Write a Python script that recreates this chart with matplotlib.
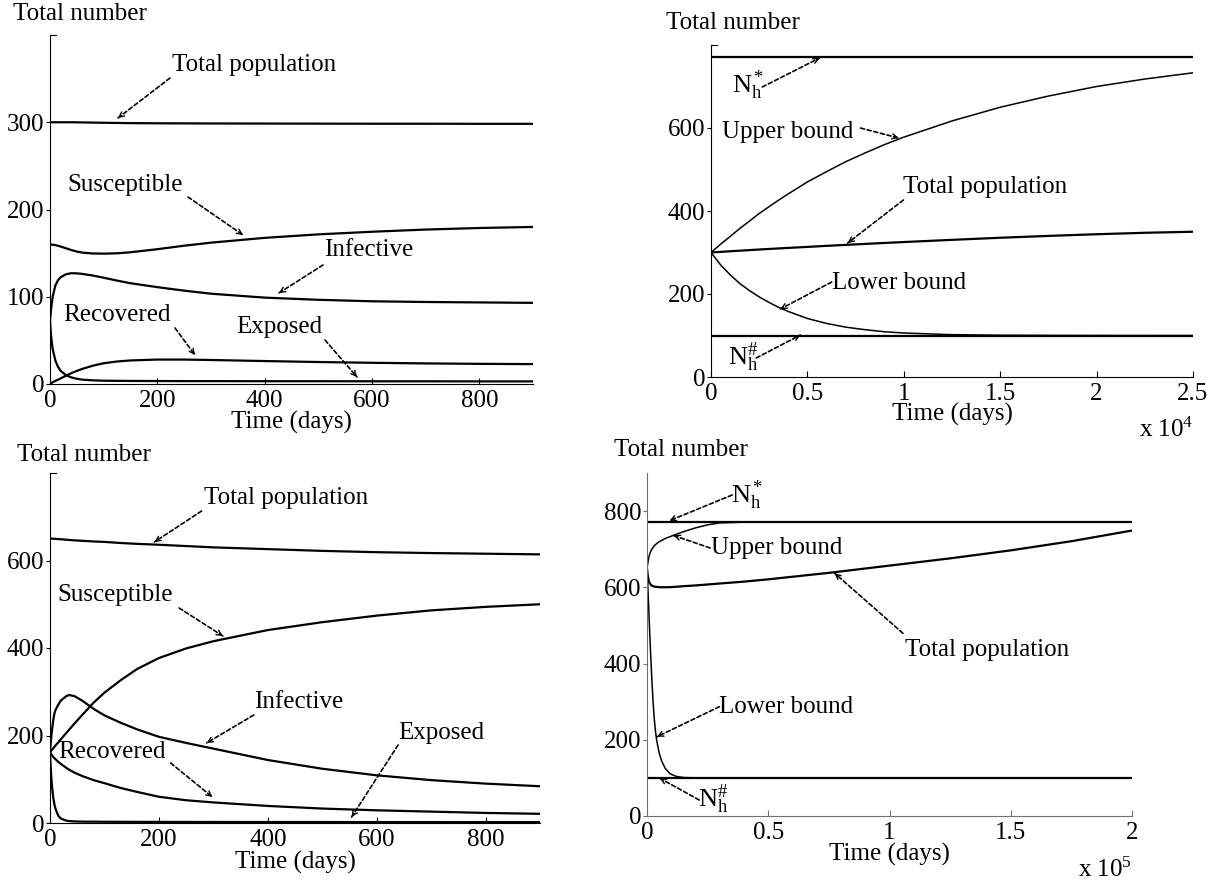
import matplotlib
matplotlib.use("Agg")
import matplotlib.pyplot as plt
from matplotlib.ticker import FuncFormatter

plt.rcParams['font.family'] = 'Liberation Serif'
plt.rcParams['mathtext.fontset'] = 'custom'
plt.rcParams['mathtext.rm'] = 'Liberation Serif'
plt.rcParams['mathtext.it'] = 'Liberation Serif:italic'
plt.rcParams['font.size'] = 18

# ---- SEIR run 1 (days) ----
t1 = [0, 2, 5, 10, 15, 20, 30, 40, 50, 60, 80, 100, 125, 150, 200, 250, 300,
      400, 500, 600, 700, 800, 900]
total1 = [300, 300, 300, 300, 300, 300, 300, 300, 299.9, 299.8, 299.6, 299.4,
          299.2, 299.0, 298.8, 298.7, 298.6, 298.5, 298.4, 298.3, 298.3, 298.2, 298.2]
susc1 = [160, 159.8, 159.6, 159.2, 158.4, 157.5, 155.5, 153.5, 151.8, 150.6, 149.6,
         149.4, 149.8, 151, 154.5, 158.5, 162, 167.5, 171.5, 174.5, 177, 178.8, 180]
inf1 = [72, 86, 100, 113, 119, 122.5, 125.8, 127, 126.8, 126.2, 124.3, 121.8, 118.5,
        115.5, 111, 107, 103.5, 99, 96.5, 94.8, 94, 93.5, 93]
exp1 = [72, 55, 40, 27, 19.5, 15, 10, 7.5, 6, 5, 4.2, 3.8, 3.6, 3.5, 3.4, 3.3, 3.3,
        3.2, 3.2, 3.1, 3.1, 3.0, 3.0]
rec1 = [0, 0.8, 2, 3.6, 5, 6.5, 9.5, 12.5, 15, 17.3, 21, 23.8, 25.8, 27, 28, 28,
        27.5, 26.3, 25.2, 24.3, 23.6, 23.1, 22.8]

# ---- bounds run 1 (days) ----
t2 = [0, 500, 1000, 1500, 2000, 2500, 3000, 3500, 4000, 5000, 6000, 7000, 8000,
      9000, 10000, 12500, 15000, 17500, 20000, 22500, 25000]
upper2 = [300, 320, 339, 358, 376, 394, 410, 426, 441, 470, 495, 519, 540, 560,
          578, 617, 650, 677, 700, 718, 733]
total2 = [300, 301.5, 303, 304.4, 305.8, 307.2, 308.5, 309.8, 311, 313.5, 316,
          318.4, 320.7, 323, 325.2, 330.5, 335.5, 340, 344, 347.5, 350]
lower2 = [300, 270, 246, 225, 208, 193, 180, 168, 158, 141, 129, 120, 114, 109,
          106, 102, 100.7, 100.3, 100.1, 100, 100]
nstar2 = 770
nhash2 = 100

# ---- SEIR run 2 (days) ----
t3 = [0, 1, 2, 3, 4, 6, 8, 10, 15, 20, 30, 35, 45, 60, 80, 100, 130, 160, 200,
      250, 300, 400, 500, 600, 700, 800, 900]
total3 = [650, 650, 650, 650, 650, 649.8, 649.6, 649.4, 649, 648.5, 647.5, 647, 646,
          645, 643.5, 642.5, 640, 638, 636, 633, 630, 626, 622, 619, 617, 615.5, 614]
susc3 = [162, 163.5, 165, 166.5, 168, 171, 174, 177, 184, 191.5, 206, 213, 227.5,
         248, 275, 298, 326.5, 352, 377, 399, 415.5, 441, 459, 474, 486, 494, 500]
inf3 = [162, 178, 192, 205, 216, 235, 250, 258, 270, 280, 290, 292.5, 290, 279,
        261, 246, 229, 214, 197, 183, 170, 144, 124, 109, 98, 90, 84]
rec3 = [162, 160, 158, 156, 154, 151, 148, 146, 140, 135, 126, 122, 115, 107, 98,
        91, 80, 71, 60, 52, 47, 39, 33, 29, 26, 23, 21]
exp3 = [162, 135, 112, 94, 80, 58, 43, 33, 17, 10, 5.5, 4.5, 3.6, 3.1, 3.0, 2.8,
        2.7, 2.6, 2.5, 2.4, 2.3, 2.2, 2.2, 2.1, 2.1, 2.0, 2.0]

# ---- bounds run 2 (days) ----
t4 = [0, 300, 700, 1000, 1500, 2000, 2500, 3000, 3500, 4000, 5000, 6000, 7500,
      9500, 12000, 15000, 20000, 25000, 30000, 40000, 50000, 75000, 100000,
      125000, 150000, 175000, 200000]
upper4 = [650, 662, 677, 685, 694, 700, 705, 709, 712, 715, 719.5, 723, 728, 733,
          739, 746, 756, 764, 769, 771, 772, 772, 772, 772, 772, 772, 772]
total4 = [650, 632, 618, 612, 607, 604.5, 603, 602, 601.5, 601, 600.5, 600.3, 600.2,
          600.5, 601.5, 603, 605, 607.5, 610, 615, 621, 638, 657, 676, 697, 721, 749]
lower4 = [650, 610, 548, 500, 425, 358, 300, 255, 222, 198, 166, 145, 125, 111,
          104, 101, 100, 100, 100, 100, 100, 100, 100, 100, 100, 100, 100]
nstar4 = 772
nhash4 = 100

W, H = 1230, 881
fig = plt.figure(figsize=(W / 100, H / 100), dpi=100)


def panel(left, right, top, bottom):
    ax = fig.add_axes([left / W, 1 - bottom / H, (right - left) / W, (bottom - top) / H])
    ax.spines['top'].set_visible(False)
    ax.spines['right'].set_visible(False)
    for s in ('left', 'bottom'):
        ax.spines[s].set_linewidth(0.8)
    ax.tick_params(axis='x', direction='in', length=4, width=0.8, pad=4, labelsize=18)
    ax.tick_params(axis='y', direction='out', length=3, width=0.8, pad=1, labelsize=18)
    return ax


def top_tick(ax):
    ax.plot([0, 0.012], [1, 1], transform=ax.transAxes, color='k', lw=0.8, clip_on=False)


def pointer(ax, tail, tip):
    ax.annotate('', xy=tip, xytext=tail,
                arrowprops=dict(arrowstyle='-', lw=1.2, linestyle=(0, (2.5, 1.6)),
                                color='k', shrinkA=0, shrinkB=0))
    back = (tip[0] + 0.05 * (tail[0] - tip[0]), tip[1] + 0.05 * (tail[1] - tip[1]))
    ax.annotate('', xy=tip, xytext=back,
                arrowprops=dict(arrowstyle='->', lw=1.0, color='k', mutation_scale=9,
                                shrinkA=0, shrinkB=0))


def label(ax, xy, s, va='center', size=18):
    ax.text(xy[0], xy[1], s, ha='left', va=va, fontsize=size)


def header(x, y):
    fig.text(x / W, 1 - y / H, 'Total number', ha='left', va='center', fontsize=18)


def xlab(ax, y):
    ax.set_xlabel('Time (days)', fontsize=18)
    ax.xaxis.set_label_coords(0.5, y)


lw_main = 1.6
lw_bound = 1.1

# top left
ax1 = panel(50, 533, 35, 384)
for y in (total1, susc1, inf1, exp1, rec1):
    ax1.plot(t1, y, color='k', lw=lw_main)
ax1.set_xlim(0, 900)
ax1.set_ylim(0, 400)
ax1.set_xticks([0, 200, 400, 600, 800])
ax1.set_yticks([0, 100, 200, 300])
top_tick(ax1)
header(13, 14)
xlab(ax1, -0.077)
label(ax1, (227, 365.6), 'Total population')
pointer(ax1, (223.6, 350.7), (126.7, 304.9))
label(ax1, (31.7, 228.1), 'Susceptible')
pointer(ax1, (257.2, 214.3), (359.6, 170.8))
label(ax1, (510.6, 153.6), 'Infective')
pointer(ax1, (508.7, 136.4), (426.7, 104.3))
label(ax1, (24.2, 79.1), 'Recovered')
pointer(ax1, (232.9, 64.2), (270.2, 33.2))
label(ax1, (346.6, 65.3), 'Exposed')
pointer(ax1, (512.4, 50.4), (572.1, 8.0))

# top right
ax2 = panel(711, 1193, 45, 377)
ax2.plot(t2, [nstar2] * len(t2), color='k', lw=lw_main)
ax2.plot(t2, [nhash2] * len(t2), color='k', lw=lw_main)
ax2.plot(t2, upper2, color='k', lw=lw_bound)
ax2.plot(t2, lower2, color='k', lw=lw_bound)
ax2.plot(t2, total2, color='k', lw=lw_main)
ax2.set_xlim(0, 25000)
ax2.set_ylim(0, 800)
ax2.set_xticks([0, 5000, 10000, 15000, 20000, 25000])
ax2.set_yticks([0, 200, 400, 600])
ax2.xaxis.set_major_formatter(FuncFormatter(lambda v, p: '%g' % (v / 1e4)))
top_tick(ax2)
header(666, 23)
xlab(ax2, -0.078)
ax2.text(1.0, -0.16, r'x 10$^{4}$', transform=ax2.transAxes, ha='right', va='center', fontsize=18)
label(ax2, (1105, 684), r'$\mathregular{N_h^*}$', va='baseline', size=19)
pointer(ax2, (2661, 698.8), (5633, 768.7))
label(ax2, (581, 590.4), 'Upper bound')
pointer(ax2, (7755, 600), (9731, 575.9))
label(ax2, (9939, 457.8), 'Total population')
pointer(ax2, (9980, 426.5), (7091, 322.9))
label(ax2, (6261, 226.5), 'Lower bound')
pointer(ax2, (6261, 228.9), (3600, 163.9))
label(ax2, (856, 29), r'$\mathregular{N_h^\#}$', va='baseline', size=19)
pointer(ax2, (2350, 45.8), (4637, 101.2))

# bottom left
ax3 = panel(50, 540, 473, 823)
for y in (total3, susc3, inf3, rec3, exp3):
    ax3.plot(t3, y, color='k', lw=lw_main)
ax3.set_xlim(0, 900)
ax3.set_ylim(0, 800)
ax3.set_xticks([0, 200, 400, 600, 800])
ax3.set_yticks([0, 200, 400, 600])
top_tick(ax3)
header(17, 455)
xlab(ax3, -0.08)
label(ax3, (282, 742.9), 'Total population')
pointer(ax3, (278.4, 713.1), (191.8, 642.3))
label(ax3, (14.2, 521.1), 'Susceptible')
pointer(ax3, (237.2, 491.4), (317.5, 427.4))
label(ax3, (374.3, 276.6), 'Infective')
pointer(ax3, (374.3, 246.9), (287.7, 182.9))
label(ax3, (639.3, 205.7), 'Exposed')
pointer(ax3, (639.3, 178.3), (554, 13.7))
label(ax3, (15.6, 162.3), 'Recovered')
pointer(ax3, (221.6, 137.1), (298.3, 59.4))

# bottom right
ax4 = panel(647, 1132, 473, 816)
for s in ('left', 'bottom'):
    ax4.spines[s].set_color('#707070')
ax4.tick_params(colors='#707070', labelcolor='k')
ax4.plot(t4, [nstar4] * len(t4), color='k', lw=lw_main)
ax4.plot(t4, [nhash4] * len(t4), color='k', lw=lw_main)
ax4.plot(t4, upper4, color='k', lw=lw_bound)
ax4.plot(t4, lower4, color='k', lw=lw_bound)
ax4.plot(t4, total4, color='k', lw=lw_main)
ax4.set_xlim(0, 200000)
ax4.set_ylim(0, 900)
ax4.set_xticks([0, 50000, 100000, 150000, 200000])
ax4.set_yticks([0, 200, 400, 600, 800])
ax4.xaxis.set_major_formatter(FuncFormatter(lambda v, p: '%g' % (v / 1e5)))
header(614, 450)
xlab(ax4, -0.079)
ax4.text(1.0, -0.157, r'x 10$^{5}$', transform=ax4.transAxes, ha='right', va='center', fontsize=18)
label(ax4, (34797, 822), r'$\mathregular{N_h^*}$', va='baseline', size=19)
pointer(ax4, (35129, 842.3), (9300, 775))
label(ax4, (26500, 702), 'Upper bound')
pointer(ax4, (26015, 703.3), (11000, 736))
label(ax4, (106379, 435.5), 'Total population')
pointer(ax4, (105550, 479.4), (77382, 636.9))
label(ax4, (29826, 286.8), 'Lower bound')
pointer(ax4, (29826, 286.8), (4143, 208))
label(ax4, (21044, 24), r'$\mathregular{N_h^\#}$', va='baseline', size=19)
pointer(ax4, (21541, 41.9), (5302, 99))

fig.savefig('out.png', dpi=100, facecolor='white')
